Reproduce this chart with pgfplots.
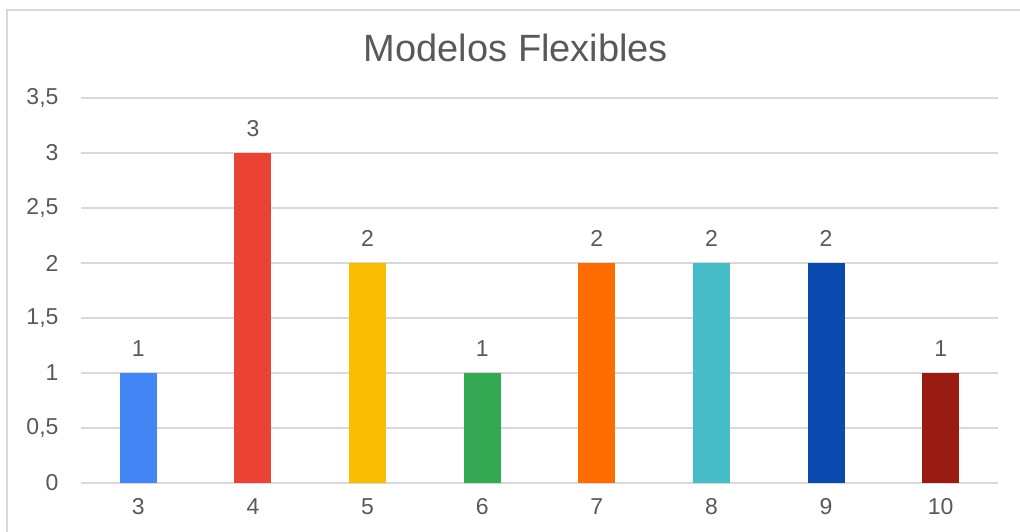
\documentclass[border=0pt]{standalone}
\usepackage{pgfplots}
\pgfplotsset{compat=1.18}
\usepackage{fontspec}
\setmainfont{Liberation Sans}
\definecolor{txt}{HTML}{595959}
\definecolor{gridc}{HTML}{D9D9D9}
\definecolor{c1}{HTML}{4285F4}
\definecolor{c2}{HTML}{EA4335}
\definecolor{c3}{HTML}{FBBC04}
\definecolor{c4}{HTML}{34A853}
\definecolor{c5}{HTML}{FF6D01}
\definecolor{c6}{HTML}{46BDC6}
\definecolor{c7}{HTML}{0B4BB0}
\definecolor{c8}{HTML}{991B12}
\begin{document}
\begin{tikzpicture}
\useasboundingbox (0,0) rectangle (1020pt,531pt);
\clip (0,0) rectangle (1020pt,531pt);
\draw[gridc, line width=1.5pt] (7pt,-10pt) rectangle (1040pt,521pt);
\node[txt, font=\fontsize{38}{44}\selectfont] at (516pt,483pt) {Modelos Flexibles};
\begin{axis}[
    at={(81pt,48pt)}, anchor=south west,
    scale only axis, width=917pt, height=385pt,
    xmin=-0.5, xmax=7.5, ymin=0, ymax=3.5,
    ytick={0,0.5,...,3.5},
    xtick={0,...,7},
    xticklabels={3,4,5,6,7,8,9,10},
    /pgf/number format/assume math mode=true,
    /pgf/number format/use comma,
    axis line style={draw=none},
    major tick length=0pt,
    ymajorgrids, grid style={gridc, line width=1.5pt},
    tick label style={txt, font=\fontsize{23}{27}\selectfont},
    yticklabel style={xshift=-19pt},
    xticklabel style={yshift=-12pt},
    ybar, bar width=37pt, bar shift=0pt,
    nodes near coords,
    nodes near coords style={txt, font=\fontsize{23}{27}\selectfont, yshift=13pt},
]
\addplot[fill=c1, draw=none] coordinates {(0,1)};
\addplot[fill=c2, draw=none] coordinates {(1,3)};
\addplot[fill=c3, draw=none] coordinates {(2,2)};
\addplot[fill=c4, draw=none] coordinates {(3,1)};
\addplot[fill=c5, draw=none] coordinates {(4,2)};
\addplot[fill=c6, draw=none] coordinates {(5,2)};
\addplot[fill=c7, draw=none] coordinates {(6,2)};
\addplot[fill=c8, draw=none] coordinates {(7,1)};
\end{axis}
\end{tikzpicture}
\end{document}
